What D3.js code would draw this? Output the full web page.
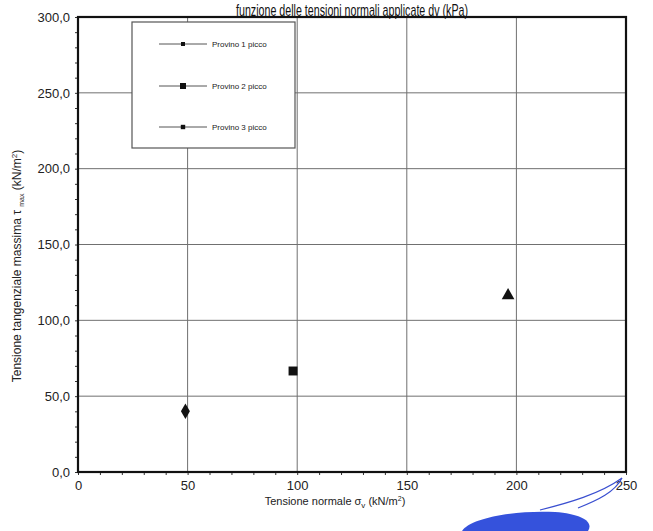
<!DOCTYPE html>
<html>
<head>
<meta charset="utf-8">
<script src="https://cdn.jsdelivr.net/npm/d3@7"></script>
<style>
  html, body { margin: 0; padding: 0; background: #fff; }
  svg { display: block; font-family: "Liberation Sans", Arial, sans-serif; }
</style>
</head>
<body>
<svg id="chart" width="653" height="531"></svg>
<script>
// Peak shear strength of each specimen vs applied normal stress
const specimens = ["Provino 1 picco", "Provino 2 picco", "Provino 3 picco"];
const sigmaV = [49.0, 98.1, 196.2];        // kN/m²
const tauMax = [40.0, 66.6, 116.4];        // kN/m²
const markerShapes = ["diamond", "square", "triangle"];

const xTicks = [0, 50, 100, 150, 200, 250];
const yTicks = [0, 50, 100, 150, 200, 250, 300];
const xMinor = d3.range(0, 251, 10);
const yMinor = d3.range(0, 301, 10);

const svg = d3.select("#chart");
const m = { left: 78, right: 626, top: 17, bottom: 472 };

const x = d3.scaleLinear().domain([0, 250]).range([m.left, m.right]);
const y = d3.scaleLinear().domain([0, 300]).range([m.bottom, m.top]);

const fmtY = v => d3.format(".1f")(v).replace(".", ",");

// grid lines
const grid = svg.append("g").attr("stroke", "#707070").attr("stroke-width", 1);
grid.selectAll("line.gx").data(xTicks.filter(v => v > 0 && v < 250)).join("line")
  .attr("x1", d => x(d)).attr("x2", d => x(d))
  .attr("y1", y(0)).attr("y2", y(300));
grid.selectAll("line.gy").data(yTicks.filter(v => v > 0 && v < 300)).join("line")
  .attr("y1", d => y(d)).attr("y2", d => y(d))
  .attr("x1", x(0)).attr("x2", x(250));

// axes with minor ticks every 10
const xAxisMinor = d3.axisBottom(x).tickValues(xMinor).tickSize(3).tickFormat("");
const yAxisMinor = d3.axisLeft(y).tickValues(yMinor).tickSize(3).tickFormat("");
svg.append("g").attr("transform", `translate(0,${y(0)})`).call(xAxisMinor)
  .call(g => g.select(".domain").remove())
  .call(g => g.selectAll("line").attr("stroke", "#333"));
svg.append("g").attr("transform", `translate(${x(0)},0)`).call(yAxisMinor)
  .call(g => g.select(".domain").remove())
  .call(g => g.selectAll("line").attr("stroke", "#333"));

const xAxis = d3.axisBottom(x).tickValues(xTicks).tickSize(0).tickPadding(9)
  .tickFormat(d3.format("d"));
svg.append("g").attr("transform", `translate(0,${y(0)})`).call(xAxis)
  .call(g => g.select(".domain").remove())
  .call(g => g.selectAll("text").attr("font-size", 13).attr("fill", "#222")
    .attr("font-family", "Liberation Sans, Arial, sans-serif"));

const yAxis = d3.axisLeft(y).tickValues(yTicks).tickSize(0).tickPadding(8)
  .tickFormat(fmtY);
svg.append("g").attr("transform", `translate(${x(0)},0)`).call(yAxis)
  .call(g => g.select(".domain").remove())
  .call(g => g.selectAll("text").attr("font-size", 13).attr("fill", "#222")
    .attr("font-family", "Liberation Sans, Arial, sans-serif"));

// plot frame
svg.append("rect")
  .attr("x", x(0)).attr("y", y(300))
  .attr("width", x(250) - x(0)).attr("height", y(0) - y(300))
  .attr("fill", "none").attr("stroke", "#111").attr("stroke-width", 2.2);

// data markers
const symType = { diamond: d3.symbolDiamond, square: d3.symbolSquare, triangle: d3.symbolTriangle };
const symSize = { diamond: 70, square: 80, triangle: 70 };
svg.append("g").selectAll("path.pt").data(sigmaV).join("path")
  .attr("class", "pt")
  .attr("transform", (d, i) => `translate(${x(d)},${y(tauMax[i])})`)
  .attr("d", (d, i) => d3.symbol().type(symType[markerShapes[i]]).size(symSize[markerShapes[i]])())
  .attr("fill", "#111");

// legend
const lg = svg.append("g");
lg.append("rect").attr("x", 132).attr("y", 22).attr("width", 163).attr("height", 126)
  .attr("fill", "#fff").attr("stroke", "#555").attr("stroke-width", 1.2);
const legY = [44, 86, 127];
const legMark = [2, 3, 2.2];
specimens.forEach((s, i) => {
  lg.append("line").attr("x1", 159).attr("x2", 207).attr("y1", legY[i]).attr("y2", legY[i])
    .attr("stroke", "#555").attr("stroke-width", 1);
  lg.append("rect").attr("x", 183 - legMark[i]).attr("y", legY[i] - legMark[i])
    .attr("width", legMark[i] * 2).attr("height", legMark[i] * 2).attr("fill", "#111");
  lg.append("text").attr("x", 212).attr("y", legY[i] + 3).attr("font-size", 8)
    .attr("fill", "#222").text(s);
});

// title
svg.append("text").attr("x", 352).attr("y", 16).attr("text-anchor", "middle")
  .attr("font-size", 17).attr("fill", "#111")
  .attr("textLength", 232).attr("lengthAdjust", "spacingAndGlyphs")
  .text("funzione delle tensioni normali applicate dv (kPa)");

// y axis title
const yt = svg.append("text")
  .attr("transform", "translate(21,266) rotate(-90)")
  .attr("text-anchor", "middle").attr("font-size", 12).attr("fill", "#222");
yt.append("tspan").text("Tensione tangenziale massima τ ");
yt.append("tspan").attr("font-size", 7).attr("dy", 3).text("max");
yt.append("tspan").attr("dy", -3).text(" (kN/m");
yt.append("tspan").attr("font-size", 8).attr("dy", -4).text("2");
yt.append("tspan").attr("dy", 4).text(")");

// x axis title
const xt = svg.append("text").attr("x", 335).attr("y", 505)
  .attr("text-anchor", "middle").attr("font-size", 11).attr("fill", "#222");
xt.append("tspan").text("Tensione normale σ");
xt.append("tspan").attr("font-size", 8).attr("dy", 3).text("v");
xt.append("tspan").attr("dy", -3).text(" (kN/m");
xt.append("tspan").attr("font-size", 7).attr("dy", -4).text("2");
xt.append("tspan").attr("dy", 4).text(")");

// ink signature mark at the lower right
svg.append("path")
  .attr("d", "M462,531 C470,518 515,510 555,512 C582,514 594,522 588,531 Z")
  .attr("fill", "#1f3fd8").attr("opacity", 0.9);
svg.append("path")
  .attr("d", "M540,510 C568,503 600,494 622,478 C615,492 598,500 578,508")
  .attr("fill", "none").attr("stroke", "#3a4fd0").attr("stroke-width", 1.2);
</script>
</body>
</html>
